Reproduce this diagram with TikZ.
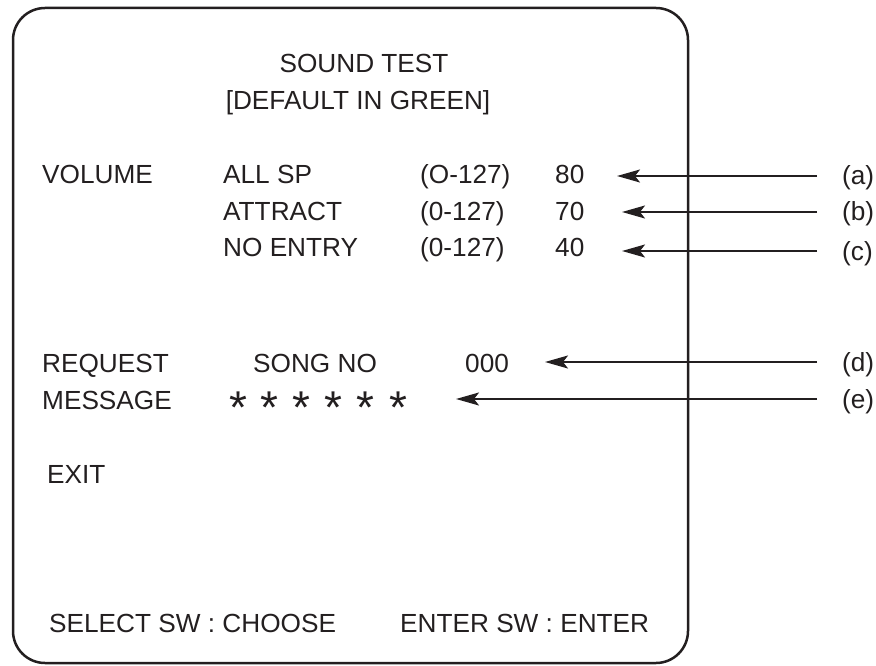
\documentclass[tikz,border=0pt]{standalone}
\usepackage{fontspec}
\setmainfont{Liberation Sans}
\usetikzlibrary{arrows.meta}
\definecolor{ink}{HTML}{231F20}
\begin{document}
\begin{tikzpicture}[x=1pt,y=-1pt,
  txt/.style={inner sep=0pt,anchor=base west,text=ink,font=\fontsize{26.2}{26.2}\selectfont},
  ctxt/.style={inner sep=0pt,anchor=base,text=ink,font=\fontsize{26.2}{26.2}\selectfont},
  star/.style={inner sep=0pt,anchor=base,text=ink,font=\fontsize{46}{46}\selectfont},
  frame/.style={draw=ink,line width=2.5pt,rounded corners=32pt},
  arr/.style={draw=ink,line width=2.2pt,-{Stealth[length=23pt,width=13pt,inset=5pt]}}]
\useasboundingbox (0,0) rectangle (876,666);
\draw[frame] (13,8) rectangle (688,663);
% title
\node[ctxt] (t1) at (364,73) {SOUND TEST};
\node[ctxt] (t2) at (358,110) {[DEFAULT IN GREEN]};
% volume
\node[txt] (vol) at (42,184) {VOLUME};
\node[txt] (allsp) at (223,184) {ALL SP};
\node[txt] (attr) at (223,220) {ATTRACT};
\node[txt] (noent) at (223,256) {NO ENTRY};
\node[txt] (r1) at (420,184) {(O-127)};
\node[txt] (r2) at (420,220) {(0-127)};
\node[txt] (r3) at (420,256) {(0-127)};
\node[txt] (v1) at (555,184) {80};
\node[txt] (v2) at (555,220) {70};
\node[txt] (v3) at (555,256) {40};
% request
\node[txt] (req) at (42,372) {REQUEST};
\node[txt] (song) at (253,372) {SONG NO};
\node[txt] (num) at (465,372) {000};
\node[txt] (msg) at (42,409) {MESSAGE};
\foreach \i/\x in {1/238,2/269,3/301,4/333,5/365,6/398}
  \node[star] (s\i) at (\x,423) {*};
\node[txt] (exit) at (47,483) {EXIT};
% bottom
\node[txt] (sel) at (49,632) {SELECT SW : CHOOSE};
\node[txt] (ent) at (400,632) {ENTER SW : ENTER};
% labels
\node[txt] (la) at (842,185) {(a)};
\node[txt] (lb) at (842,221) {(b)};
\node[txt] (lc) at (842,260) {(c)};
\node[txt] (ld) at (842,371) {(d)};
\node[txt] (le) at (842,408) {(e)};
% arrow coordinates
\coordinate (sa) at (817,176); \coordinate (ta) at (617,176);
\coordinate (sb) at (817,212); \coordinate (tb) at (622,212);
\coordinate (sc) at (817,251); \coordinate (tc) at (622,251);
\coordinate (sd) at (817,362); \coordinate (td) at (545,362);
\coordinate (se) at (817,399); \coordinate (te) at (456,399);
\draw[arr] (sa) -- (ta);
\draw[arr] (sb) -- (tb);
\draw[arr] (sc) -- (tc);
\draw[arr] (sd) -- (td);
\draw[arr] (se) -- (te);
\end{tikzpicture}
\end{document}
